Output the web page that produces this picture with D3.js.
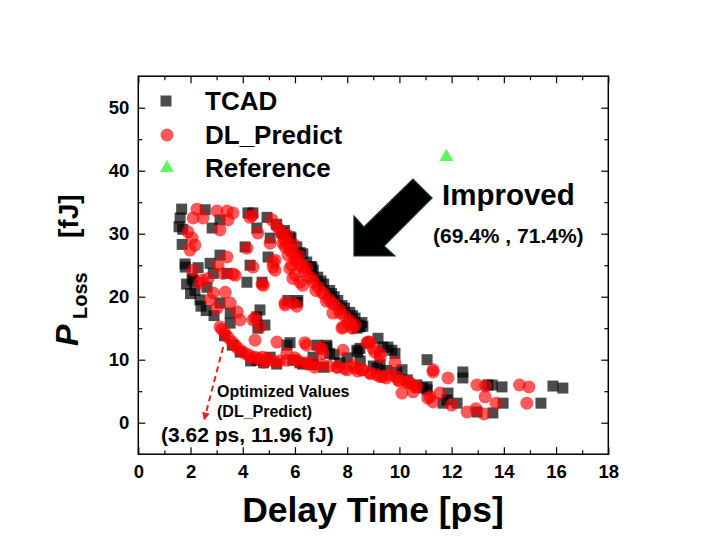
<!DOCTYPE html>
<html><head><meta charset="utf-8">
<script src="https://cdn.jsdelivr.net/npm/d3@7"></script>
<style>
body{margin:0;background:#fff;}
svg{display:block;font-family:"Liberation Sans",Arial,sans-serif;}
</style></head>
<body><svg id="c" width="721" height="560"></svg>
<script>
// ---- data ----
const tcadX = [1.66,1.6,1.56,1.7,1.68,1.79,1.8,2.06,2.17,2.36,2.6,2.56,3.13,2.83,4.2,4.93,4.54,5.05,4.09,3.13,2.75,2.29,4.28,4.74,4.97,5.81,4.39,5.5,6.07,6.45,6.87,7.33,7.64,8.1,8.56,8.37,5.73,6.11,4.54,4.85,
5.3,5.6,5.85,6.3,6.7,7.1,7.5,7.9,8.3,8.6,6.2,6.6,7.0,7.4,7.8,8.2,8.45,
2.1,2.63,2.87,3.4,3.13,3.52,4.58,4.66,3.52,4.54,5.05,5.81,5.92,6.69,7.22,6.84,8.49,6.07,6.65,4.16,
5.69,6.19,6.69,7.22,8.37,9.18,9.56,9.83,8.49,11.06,10.1,10.67,11.06,7.72,9.26,
9.9,11.06,11.82,12.21,11.67,11.86,9.37,9.71,7.33,8.41,9.14,
12.43,12.43,13.55,13.93,15.88,16.26,15.42,13.97,13.58,12.97,13.39,
3.3,3.6,3.9,4.3,4.8,5.3,6.3,7.1,7.5,8.0,8.5,9.0,9.5,10.3,10.9,2.9,2.4,2.0,1.85];
const tcadY = [33.9,32.5,31.1,30.7,28.3,25.2,24.7,22.9,21,19.5,17.8,33.8,32.2,30.9,33.3,32.6,30.9,29.3,27.9,26.6,25.3,24.6,25.0,22.3,26.3,29.5,33.3,30.1,27.9,25.5,23.1,21.0,19.4,17.5,15.9,15.0,19.4,19.4,16.8,15.5,
31.5,30.5,29.3,26.8,24.2,22,20,18.2,16.6,15.3,27.0,24.8,22.5,20.5,18.6,17.0,15.5,
22.6,21.5,23.7,23.7,19.0,17.4,15.0,17.9,15.8,9.9,10.4,12.7,9.9,10.4,12.0,12.3,11.8,19.1,24.7,22.3,
12.3,9.5,9.2,12.3,11.5,13.4,12.0,11.0,15.2,10.0,8.4,6.0,5.2,9.5,9.2,
8.0,5.7,3.6,3.1,3.1,4.7,12.0,11.5,11.0,11.2,8.7,
8.05,7.1,5.98,5.68,5.82,5.5,3.1,3.1,1.55,1.7,6.0,
13.8,12.3,11.2,9.8,9.5,9.3,9.3,8.8,10.8,10.3,9.8,9.0,8.3,6.8,5.5,17.0,18.5,20.5,22.0];

const dlX = [2.25,2.48,2.1,3.01,3.4,3.63,3.44,3.13,4.28,1.9,2.06,2.17,1.98,3.4,3.05,3.63,3.25,2.1,2.44,4.39,4.16,4.58,5.05,5.12,5.42,5.24,4.74,5.62,5.73,
5.69,5.81,6.07,6.3,6.65,7.03,7.41,7.72,8.03,8.22,7.8,7.45,5.92,6.19,5.16,5.24,4.79,5.62,6.07,4.47,4.66,4.36,5.54,5.88,
5.3,5.5,5.6,5.9,6.0,6.2,6.35,6.5,6.7,6.9,7.1,7.3,7.5,7.7,7.9,8.1,8.3,5.8,6.0,6.3,5.7,5.95,6.15,6.45,6.8,7.2,
2.36,2.87,3.33,2.75,3.02,3.52,3.79,3.9,3.13,3.33,3.6,3.79,4.09,4.47,4.93,5.24,4.47,4.39,5.31,5.69,6.07,6.45,6.76,6.45,7.03,7.84,8.87,5.62,5.92,2.67,3.71,5.16,
3.2,3.45,3.7,3.95,4.25,4.6,5.0,5.4,4.8,6.2,6.5,7.0,4.35,4.75,
5.69,6.0,6.38,6.65,6.96,7.07,7.61,8.3,8.76,9.06,9.26,9.83,9.64,10.33,10.6,11.29,8.87,9.14,7.84,8.18,8.56,7.99,9.37,9.94,
8.6,9.26,9.9,10.29,10.67,11.17,11.29,8.8,8.99,9.26,7.64,8.22,10.41,10.52,11.29,11.86,12.97,13.3,14.6,14.96,14.88,13.28,13.7,13.24,12.93,12.59,11.09,11.55,12.0,
7.3,7.9,8.4,8.9,9.5,10.0,10.1];
const dlY = [33.9,32.5,32.5,33.6,33.6,33.3,32.2,30.6,32.6,30.3,29.3,28.2,27.4,26.3,25.0,23.6,23.7,24.2,22.6,24.7,27.7,30.1,28.5,32.2,30.6,25.8,22.0,27.9,26.6,
28.5,27.4,25.8,24.7,22.9,20.7,19.0,17.4,15.9,15.2,15.0,17.4,22.9,22.3,25.5,24.2,21.8,18.7,18.5,16.6,15.2,32.9,28.5,25.0,
31.2,30,29,27,26,25,24,23.2,22.3,21.5,20.5,19.6,18.8,18,17,16.2,15.5,24.5,23.5,21.8,29.8,28.3,26.5,24.6,21.0,19.3,
22.2,20.6,20.7,19.5,18.2,19.0,17.6,16.3,15.2,14.2,12.8,11.9,11.0,10.4,10.2,9.6,13.1,16.3,12.8,9.9,9.9,9.5,8.8,12.3,11.8,11.5,12.8,19.0,19.0,22.9,23.4,24.7,
14.8,13.5,12.3,11.4,10.7,10.2,10.0,9.8,9.6,9.6,9.3,9.2,10.3,10.4,
11.0,10.3,12.7,9.5,11.8,11.0,8.8,8.7,12.7,11.2,10.4,9.5,7.6,6.5,5.7,8.4,7.9,7.6,15.2,15.0,8.4,8.4,7.3,6.8,
8.4,7.3,7.3,6.3,5.7,4.1,3.3,12.8,11.8,11.0,8.8,9.2,6.3,4.9,8.05,7.1,5.98,5.82,5.98,5.68,3.1,4.1,3.1,1.4,2.2,1.7,3.9,4.7,2.8,
9.0,8.6,8.2,7.8,7.1,6.6,4.7];

const refX = [11.8];
const refY = [42.2];

const xTicks = [0,2,4,6,8,10,12,14,16,18];
const yTicks = [0,10,20,30,40,50];
const seriesNames = ["TCAD","DL_Predict","Reference"];
const optPoint = [3.62, 11.96];
const improveLabel = "(69.4% , 71.4%)";

// ---- chart ----
const svg = d3.select("#c");
const x = d3.scaleLinear().domain([0,18]).range([138.3,608.3]);
const y = d3.scaleLinear().domain([-5,55]).range([454.2,76.2]);
const L = 138.3, R = 608.3, T = 76.2, B = 454.2;

const fontW = "bold";
const xMinor = d3.range(1,18,2);
const yMinor = [5,15,25,35,45];

function axisG(axis, tx, ty){
  const g = svg.append("g").attr("transform",`translate(${tx},${ty})`).call(axis);
  g.select(".domain").remove();
  g.selectAll("line").attr("stroke","#000").attr("stroke-width",1.2);
  return g;
}
const gb = axisG(d3.axisBottom(x).tickValues(xTicks).tickSize(-7).tickPadding(11).tickFormat(d3.format("d")),0,B);
gb.selectAll("text").attr("font-size",18.5).attr("font-weight",fontW).attr("fill","#000");
axisG(d3.axisBottom(x).tickValues(xMinor).tickSize(-4).tickFormat(""),0,B);
axisG(d3.axisTop(x).tickValues(xTicks).tickSize(-7).tickFormat(""),0,T);
axisG(d3.axisTop(x).tickValues(xMinor).tickSize(-4).tickFormat(""),0,T);
const gl = axisG(d3.axisLeft(y).tickValues(yTicks).tickSize(-7).tickPadding(9).tickFormat(d3.format("d")),L,0);
gl.selectAll("text").attr("font-size",18.5).attr("font-weight",fontW).attr("fill","#000");
axisG(d3.axisLeft(y).tickValues(yMinor).tickSize(-4).tickFormat(""),L,0);
axisG(d3.axisRight(y).tickValues(yTicks).tickSize(-7).tickFormat(""),R,0);
axisG(d3.axisRight(y).tickValues(yMinor).tickSize(-4).tickFormat(""),R,0);

svg.append("rect").attr("x",L).attr("y",T).attr("width",R-L).attr("height",B-T)
  .attr("fill","none").attr("stroke","#000").attr("stroke-width",1.5);

svg.append("clipPath").attr("id","clip").append("rect").attr("x",L).attr("y",T).attr("width",R-L).attr("height",B-T);
const plot = svg.append("g").attr("clip-path","url(#clip)");

const sq = 11;
plot.append("g").selectAll("rect").data(d3.range(tcadX.length)).join("rect")
  .attr("x",i=>x(tcadX[i])-sq/2).attr("y",i=>y(tcadY[i])-sq/2)
  .attr("width",sq).attr("height",sq).attr("fill","#000").attr("fill-opacity",0.7);

plot.append("g").selectAll("circle").data(d3.range(dlX.length)).join("circle")
  .attr("cx",i=>x(dlX[i])).attr("cy",i=>y(dlY[i])).attr("r",6.5)
  .attr("fill","#ff0000").attr("fill-opacity",0.65);

const tri = d3.symbol().type(d3.symbolTriangle).size(85);
plot.append("g").selectAll("path").data(d3.range(refX.length)).join("path")
  .attr("d",tri).attr("transform",i=>`translate(${x(refX[i])},${y(refY[i])})`)
  .attr("fill","#5ef55e");

// big arrow (annotation, data coords)
const arrowPts = [[8.26,26.46],[8.26,32.8],[8.64,31.06],[10.52,38.68],[11.25,35.67],[9.41,28.05],[9.83,26.46]];
svg.append("path").attr("d","M"+arrowPts.map(p=>[x(p[0]),y(p[1])].join(",")).join("L")+"Z")
  .attr("fill","#000").attr("stroke","#16303a").attr("stroke-width",1.2).attr("stroke-linejoin","miter");

svg.append("text").attr("x",442).attr("y",205).attr("font-size",29.5).attr("font-weight","bold").text("Improved");
svg.append("text").attr("x",433).attr("y",243).attr("font-size",21).attr("font-weight","bold").text(improveLabel);

// dashed red arrow
const defs = svg.append("defs");
defs.append("marker").attr("id","ah").attr("viewBox","0 0 10 10").attr("refX",8).attr("refY",5)
  .attr("markerWidth",4).attr("markerHeight",4).attr("orient","auto")
  .append("path").attr("d","M0,0L10,5L0,10Z").attr("fill","#f02020");
svg.append("line").attr("x1",x(3.25)).attr("y1",y(12.0)).attr("x2",x(2.53)).attr("y2",y(0.6))
  .attr("stroke","#f02020").attr("stroke-width",2).attr("stroke-dasharray","6,4").attr("marker-end","url(#ah)");

svg.append("text").attr("x",217).attr("y",397).attr("font-size",16).attr("font-weight","bold").text("Optimized Values");
svg.append("text").attr("x",217).attr("y",417).attr("font-size",16).attr("font-weight","bold").text("(DL_Predict)");
svg.append("text").attr("x",161).attr("y",442).attr("font-size",21).attr("font-weight","bold")
  .text(`(${optPoint[0]} ps, ${optPoint[1]} fJ)`);

// legend
const lg = svg.append("g");
lg.append("rect").attr("x",166-5.5).attr("y",101-5.5).attr("width",11).attr("height",11).attr("fill","#000").attr("fill-opacity",0.7);
lg.append("circle").attr("cx",167).attr("cy",135).attr("r",6.5).attr("fill","#ff0000").attr("fill-opacity",0.65);
lg.append("path").attr("d",tri).attr("transform","translate(167,168)").attr("fill","#5ef55e");
[110,144,177].forEach((by,i)=>{
  lg.append("text").attr("x",205).attr("y",by).attr("font-size",26).attr("font-weight","bold").text(seriesNames[i]);
});

// axis titles
svg.append("text").attr("x",373).attr("y",522).attr("text-anchor","middle")
  .attr("font-size",35.5).attr("font-weight","bold").text("Delay Time [ps]");
const yt = svg.append("g").attr("transform","translate(78,0) rotate(-90)");
yt.append("text").attr("x",-346).attr("y",0).attr("font-size",32).attr("font-weight","bold").attr("font-style","italic").text("P");
yt.append("text").attr("x",-319).attr("y",9).attr("font-size",20).attr("font-weight","bold").text("Loss");
yt.append("text").attr("x",-238).attr("y",0).attr("font-size",28).attr("font-weight","bold").text("[fJ]");
</script></body></html>
